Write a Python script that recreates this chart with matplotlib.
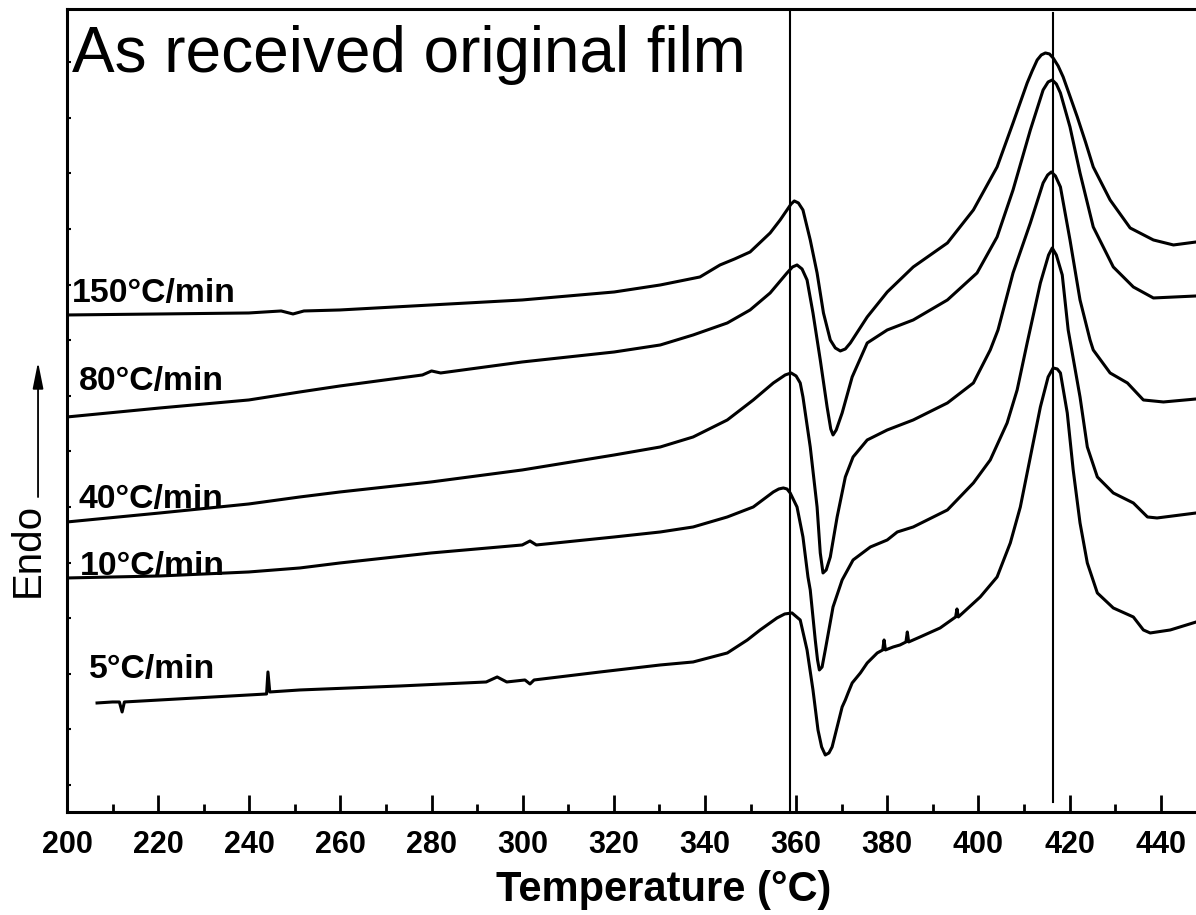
import matplotlib.pyplot as plt
import numpy as np
from matplotlib.ticker import FixedLocator, MultipleLocator

plt.rcParams["font.family"] = ["Liberation Sans", "DejaVu Sans"]

# DSC heating traces, heat flow in arbitrary units (endo up, curves offset)
t_150 = [200.0, 220.4, 239.9, 247.0, 249.6, 252.0, 259.9, 279.9, 299.9, 320.1,
         330.2, 338.9, 343.3, 346.5, 349.9, 354.3, 356.5, 358.0, 358.9, 359.6,
         360.5, 361.5, 363.1, 364.6, 366.0, 367.5, 368.6, 369.7, 370.8, 371.9,
         375.6, 380.0, 385.7, 393.2, 398.9, 404.1, 407.6, 410.7, 411.8, 412.9,
         413.8, 414.7, 415.6, 416.4, 417.5, 418.6, 420.0, 421.7, 423.5, 425.2,
         428.9, 433.3, 438.4, 442.8, 447.8]
hf_150 = [470, 471, 472, 474, 471, 474, 475, 480, 485, 493,
          500, 508, 520, 526, 533, 552, 565, 575, 581, 584,
          582, 575, 545, 512, 472, 445, 437, 434, 436, 442,
          468, 493, 518, 542, 575, 618, 662, 702, 714, 725,
          730, 732, 731, 727, 719, 708, 690, 668, 643, 618,
          585, 557, 545, 540, 543]

t_80 = [200.0, 220.4, 239.9, 251.1, 259.9, 278.0, 280.0, 282.0, 299.9, 320.1,
        330.2, 337.4, 344.9, 349.9, 354.3, 358.0, 359.2, 360.2, 361.3, 362.4,
        363.7, 365.3, 366.8, 367.6, 368.1, 368.8, 370.1, 372.3, 375.6, 380.0,
        385.7, 393.2, 399.7, 404.1, 407.6, 411.4, 414.2, 415.3, 416.2, 417.1,
        418.0, 420.1, 422.3, 425.2, 429.6, 434.0, 438.4, 447.8]
hf_80 = [368, 377, 385, 393, 399, 410, 414, 412, 423, 433,
         440, 450, 462, 475, 492, 512, 518, 520, 516, 505,
         472, 425, 378, 356, 350, 355, 372, 408, 442, 455,
         465, 485, 512, 548, 595, 655, 695, 703, 705, 701,
         692, 658, 612, 558, 518, 498, 487, 489]

t_40 = [200.0, 220.4, 239.9, 251.1, 259.9, 279.9, 299.9, 320.1, 330.2, 337.4,
        344.9, 350.6, 355.0, 357.6, 358.9, 360.0, 360.9, 361.5, 363.1, 364.6,
        365.3, 365.9, 366.6, 367.5, 369.0, 370.8, 372.5, 375.6, 380.0, 385.7,
        393.2, 398.9, 402.6, 404.3, 407.6, 411.4, 414.2, 415.2, 416.0, 416.9,
        418.0, 420.1, 422.3, 424.5, 425.2, 428.9, 432.7, 436.2, 440.6, 447.8]
hf_40 = [263, 272, 281, 288, 293, 303, 315, 330, 338, 348,
         365, 385, 402, 410, 412, 409, 402, 388, 338, 278,
         232, 212, 215, 228, 268, 308, 328, 345, 355, 365,
         382, 402, 435, 455, 512, 562, 602, 610, 613, 609,
         598, 545, 485, 445, 435, 412, 402, 385, 383, 386]

t_10 = [200.0, 220.4, 239.9, 251.1, 259.9, 279.9, 299.9, 301.6, 303.0, 320.1,
        330.2, 337.4, 344.9, 350.6, 355.0, 356.2, 357.2, 358.0, 358.7, 360.2,
        361.5, 362.6, 363.1, 364.2, 364.7, 365.1, 365.7, 366.4, 368.1, 370.1,
        372.5, 376.3, 380.0, 382.2, 385.7, 393.2, 398.9, 402.6, 406.3, 408.5,
        410.7, 413.6, 415.4, 416.2, 417.1, 418.4, 419.7, 422.3, 423.9, 426.1,
        429.6, 434.0, 437.1, 439.2, 447.8]
hf_10 = [207, 209, 213, 217, 222, 232, 240, 244, 240, 248,
         253, 258, 268, 278, 293, 296, 297, 296, 292, 278,
         248, 208, 195, 145, 125, 115, 118, 135, 178, 205,
         225, 238, 245, 253, 258, 275, 302, 325, 362, 395,
         442, 502, 530, 537, 530, 510, 455, 388, 338, 308,
         292, 282, 268, 267, 272]

t_5 = [206.6, 210.0, 211.5, 212.1, 212.6, 220.4, 239.9, 243.8, 244.1, 244.5,
       251.1, 273.1, 292.0, 294.4, 296.5, 300.5, 301.6, 302.5, 317.0, 330.2,
       337.4, 344.9, 349.3, 352.1, 355.8, 357.5, 359.1, 360.9, 362.4, 363.7,
       364.8, 365.6, 366.4, 367.2, 367.9, 369.0, 370.1, 370.8, 371.4, 372.3,
       374.1, 375.6, 377.8, 379.0, 379.3, 379.6, 381.3, 382.8, 384.1, 384.4,
       384.7, 387.2, 391.6, 395.0, 395.3, 395.6, 400.4, 404.1, 407.0, 409.2,
       411.4, 413.6, 415.3, 416.4, 417.3, 418.0, 419.5, 420.8, 422.3, 423.9,
       426.1, 429.6, 434.0, 436.2, 437.7, 442.1, 447.8]
hf_5 = [82, 83, 83, 73, 83, 85, 90, 91, 113, 93,
        95, 99, 103, 108, 103, 105, 101, 105, 113, 120,
        123, 132, 145, 155, 167, 171, 172, 165, 135, 95,
        55, 38, 30, 32, 38, 58, 78, 85, 92, 102,
        112, 122, 132, 135, 145, 135, 138, 140, 143, 153,
        143, 148, 157, 168, 176, 168, 188, 208, 242, 278,
        328, 378, 408, 417, 416, 412, 372, 315, 262, 222,
        192, 177, 168, 155, 152, 155, 163]

curves = [(t_150, hf_150), (t_80, hf_80), (t_40, hf_40), (t_10, hf_10), (t_5, hf_5)]

rate_labels = ["150°C/min", "80°C/min", "40°C/min", "10°C/min", "5°C/min"]
label_x = [201.1, 202.6, 202.6, 202.9, 204.8]
label_y = [483, 395, 277, 210, 107]

peak_temps = [358.6, 416.3]
x_ticks = [200, 220, 240, 260, 280, 300, 320, 340, 360, 380, 400, 420, 440]

fig = plt.figure(figsize=(11.96, 9.15), dpi=100)
# the frame runs past the right edge of the figure, so only left/top/bottom show
ax = fig.add_axes([0.056, 0.1126, 0.9983, 0.8776])

for t, hf in curves:
    ax.plot(t, hf, color="black", lw=2.2, solid_joinstyle="round")

ax.axvline(peak_temps[0], color="black", lw=1.5)
ax.axvline(peak_temps[1], ymin=0.0125, ymax=0.995, color="black", lw=1.5)

for txt, x, y in zip(rate_labels, label_x, label_y):
    ax.text(x, y, txt, fontsize=24.3, fontweight="bold", va="baseline", ha="left")

ax.text(201.1, 713, "As received original film", fontsize=46, va="baseline", ha="left")

ax.set_xlim(200, 462)
ax.set_ylim(-27, 776)
ax.xaxis.set_major_locator(FixedLocator(x_ticks))
ax.xaxis.set_minor_locator(MultipleLocator(10))
ax.yaxis.set_major_locator(FixedLocator(np.arange(0, 776, 55.6)))
ax.set_yticklabels([])
ax.tick_params(axis="x", which="major", direction="in", length=12, width=2,
               labelsize=22, pad=13)
ax.tick_params(axis="x", which="minor", direction="in", length=6, width=2)
ax.tick_params(axis="y", which="major", direction="in", length=3, width=1.5)
for lbl in ax.get_xticklabels():
    lbl.set_fontweight("bold")

for side in ["left", "bottom", "top", "right"]:
    ax.spines[side].set_linewidth(2.2)

ax.set_xlabel("Temperature (°C)", fontsize=30, fontweight="bold", labelpad=7)

fig.text(0.0234, 0.399, "Endo", rotation=90, fontsize=29, ha="center", va="center")
ax.annotate("", xy=(0.0318, 0.6044), xytext=(0.0318, 0.4568),
            xycoords="figure fraction", textcoords="figure fraction",
            arrowprops=dict(arrowstyle="-|>,head_length=1.6,head_width=0.32",
                            color="black", lw=1.3, shrinkA=0, shrinkB=0))

fig.savefig("out.png", dpi=100)
